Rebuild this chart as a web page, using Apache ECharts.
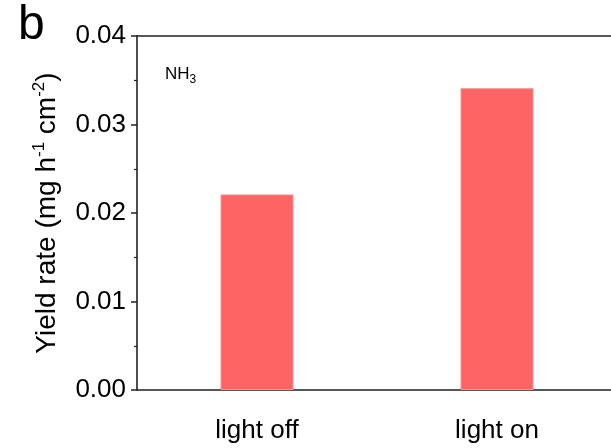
<!DOCTYPE html>
<html>
<head>
<meta charset="utf-8">
<script src="https://cdn.jsdelivr.net/npm/echarts@6/dist/echarts.min.js"></script>
<style>
  html, body { margin: 0; padding: 0; background: #fff; }
  #chart { width: 611px; height: 448px; }
</style>
</head>
<body>
<div id="chart"></div>
<script>
// NH3 yield rate with and without illumination
const categories = ['light off', 'light on'];
const yieldRate = [0.0221, 0.0341];
const yTicks = { min: 0, max: 0.04, interval: 0.01 };

const axisColor = '#222';
const sans = '"Liberation Sans", Arial, sans-serif';

const chart = echarts.init(document.getElementById('chart'));
chart.setOption({
  animation: false,
  backgroundColor: '#fff',
  title: [
    { text: 'b', left: 13, top: -3, textStyle: { fontFamily: sans, fontSize: 48, fontWeight: 'normal', color: '#000' } },
    {
      text: 'NH{sub|3}', left: 160, top: 57,
      textStyle: {
        fontFamily: sans, fontSize: 17, fontWeight: 'normal', color: '#000',
        rich: { sub: { fontFamily: sans, fontSize: 12, color: '#000', padding: [12, 0, 0, 0] } }
      }
    }
  ],
  grid: { left: 137, top: 36, bottom: 58, width: 480, outerBoundsMode: 'none', containLabel: false },
  xAxis: [
    {
      type: 'category',
      data: [
        { value: categories[0] },
        { value: categories[1], textStyle: { padding: [0, 0, 8, 0] } }
      ],
      axisLine: { lineStyle: { color: axisColor, width: 1.6 } },
      axisTick: { show: false },
      axisLabel: { margin: 28, fontFamily: sans, fontSize: 26, color: '#000' }
    },
    {
      type: 'category',
      position: 'top',
      data: categories,
      axisLine: { lineStyle: { color: axisColor, width: 1.6 } },
      axisTick: { show: false },
      axisLabel: { show: false }
    }
  ],
  yAxis: {
    type: 'value',
    min: yTicks.min,
    max: yTicks.max,
    interval: yTicks.interval,
    name: 'Yield rate (mg h{sup|-1} cm{sup|-2})',
    nameLocation: 'middle',
    nameGap: 69,
    nameTextStyle: {
      fontFamily: sans, fontSize: 28, color: '#000', lineHeight: 34,
      rich: { sup: { fontFamily: sans, fontSize: 17, color: '#000', verticalAlign: 'top', lineHeight: 34 } }
    },
    axisLine: { show: true, lineStyle: { color: axisColor, width: 1.6 } },
    axisTick: { show: true, inside: false, length: 6, lineStyle: { color: axisColor, width: 1.5 } },
    minorTick: { show: true, splitNumber: 2, length: 3, lineStyle: { color: axisColor, width: 1.2 } },
    splitLine: { show: false },
    axisLabel: {
      margin: 11, fontFamily: sans, fontSize: 26, color: '#000',
      formatter: v => v.toFixed(2)
    }
  },
  series: [{
    type: 'bar',
    data: yieldRate,
    barWidth: 73,
    itemStyle: { color: '#FF6464', borderColor: '#F39494', borderWidth: 1 }
  }]
});
</script>
</body>
</html>
